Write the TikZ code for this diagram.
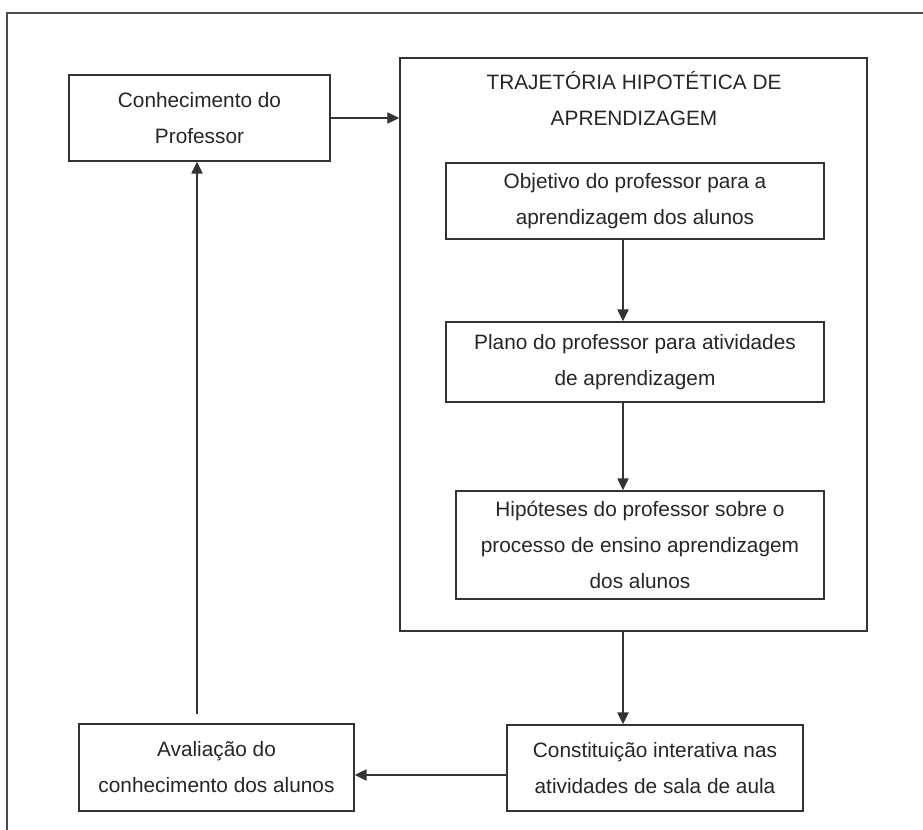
\documentclass[tikz,border=0pt]{standalone}
\usepackage{fontspec}
\setmainfont{Liberation Sans}
\usetikzlibrary{positioning, arrows.meta}

\tikzset{
    caixa/.style={draw=black!80, line width=1pt, align=center, inner sep=0pt, text=black!85,
        font=\fontsize{14.8}{25.6}\selectfont},
    seta/.style={draw=black!80, line width=1pt, -{Triangle[length=8.5pt, width=8pt]}},
}

\begin{document}
\begin{tikzpicture}[x=0.025cm, y=-0.025cm]
        \useasboundingbox (0, 0) rectangle (923, 830);

        % moldura da figura (cortada)
        \draw[black!70, line width=1.1pt] (7, 830) -- (7, 13) -- (923, 13);

        % caixa grande da trajetoria
        \node[caixa, minimum width=11.675cm, minimum height=14.325cm] (trajetoria) at (633.5, 344.5) {};
        \node[caixa, draw=none] (titulo) at (634, 98.5) {TRAJETÓRIA HIPOTÉTICA DE\\APRENDIZAGEM};

        % caixas dentro da trajetoria
        \node[caixa, minimum width=9.45cm, minimum height=1.9cm] (objetivo) at (635, 201)
            {Objetivo do professor para a\\aprendizagem dos alunos};
        \node[caixa, minimum width=9.45cm, minimum height=2cm] (plano) at (635, 362)
            {Plano do professor para atividades\\de aprendizagem};
        \node[caixa, minimum width=9.2cm, minimum height=2.7cm] (hipoteses) at (640, 545)
            {Hipóteses do professor sobre o\\processo de ensino aprendizagem\\dos alunos};

        % caixas de fora
        \node[caixa, minimum width=6.525cm, minimum height=2.15cm] (conhecimento) at (199.5, 118)
            {Conhecimento do\\Professor};
        \node[caixa, minimum width=6.875cm, minimum height=2.175cm] (avaliacao) at (216.5, 767.5)
            {Avaliação do\\conhecimento dos alunos};
        \node[caixa, minimum width=7.4cm, minimum height=2.15cm] (constituicao) at (655, 768)
            {Constituição interativa nas\\atividades de sala de aula};

        % eixos das setas
        \coordinate (eixo) at (623, 0);
        \coordinate (base) at (0, 775);
        \coordinate (inicio) at (197, 714);

        % setas
        \draw[seta] (conhecimento.east) -- (conhecimento.east -| trajetoria.west);
        \draw[seta] (objetivo.south -| eixo) -- (plano.north -| eixo);
        \draw[seta] (plano.south -| eixo) -- (hipoteses.north -| eixo);
        \draw[seta] (trajetoria.south -| eixo) -- (constituicao.north -| eixo);
        \draw[seta] (constituicao.west |- base) -- (avaliacao.east |- base);
        \draw[seta] (inicio) -- (inicio |- conhecimento.south);
\end{tikzpicture}
\end{document}
